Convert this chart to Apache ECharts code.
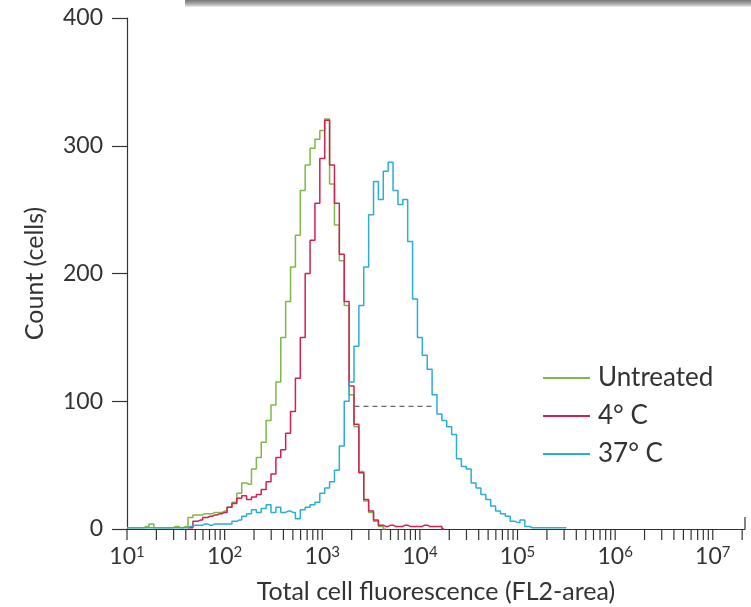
<!DOCTYPE html>
<html>
<head>
<meta charset="utf-8">
<script src="https://cdn.jsdelivr.net/npm/echarts@6/dist/echarts.min.js"></script>
<style>
html,body{margin:0;padding:0;background:#fff;}
#chart{width:751px;height:607px;}
</style>
</head>
<body>
<div id="chart"></div>
<script>
// Histogram channels, in log10 of total cell fluorescence (FL2-area)
const channels = [
  1.00,1.05,1.10,1.15,1.20,1.25,1.30,1.35,1.40,1.45,
  1.50,1.55,1.60,1.65,1.70,1.75,1.80,1.85,1.90,1.95,
  2.00,2.05,2.10,2.15,2.20,2.25,2.30,2.35,2.40,2.45,
  2.50,2.55,2.60,2.65,2.70,2.75,2.80,2.85,2.90,2.95,
  3.00,3.05,3.10,3.15,3.20,3.25,3.30,3.35,3.40,3.45,
  3.50,3.55,3.60,3.65,3.70,3.75,3.80,3.85,3.90,3.95,
  4.00,4.05,4.10,4.15,4.20,4.25,4.30,4.35,4.40,4.45,
  4.50,4.55,4.60,4.65,4.70,4.75,4.80,4.85,4.90,4.95,
  5.00,5.05,5.10,5.15,5.20,5.25,5.30,5.35,5.40,5.45,
  5.50
];
// Counts per channel (null = no trace)
const untreated = [
  1,1,1,1,2,4,1,1,1,1,
  2,1,2,9,11,11,12,12,13,13,
  14,17,21,28,36,35,47,56,68,85,
  97,115,150,178,205,230,265,285,298,305,
  312,321,270,238,210,175,105,80,45,22,
  13,6,2,0
];
const cold4 = [
  null,null,null,null,null,null,null,null,null,null,
  null,null,null,1,6,7,9,10,11,12,
  13,17,20,24,26,23,25,27,31,37,
  43,56,62,75,92,118,150,200,226,255,
  290,320,285,255,215,178,112,82,44,23,
  14,7,3,2,3,2,2,3,2,2,
  2,3,2,2,2,0
];
const warm37 = [
  1,1,1,1,1,1,1,1,1,1,
  1,1,1,2,3,3,4,3,4,4,
  4,4,6,7,10,12,15,13,16,19,
  13,17,13,14,13,8,15,17,19,21,
  28,32,37,46,65,100,115,143,175,205,
  246,272,258,280,287,265,254,258,225,180,
  150,136,125,105,90,85,80,74,55,49,
  47,36,32,27,23,18,14,12,10,6,
  5,7,2,1,1,1,1,1,1,1,
  1
];
// Half-maximum marker of the 37 °C peak: [log10 fluorescence, count]
const halfMax = [[3.33, 96], [4.16, 96]];
const seriesNames = ['Untreated', '4° C', '37° C'];
const yTicks = [0, 100, 200, 300, 400];

const FONT = 'Lato, "Open Sans", sans-serif';
const TXT = '#333333';
const colors = ['#7cba45', '#d2204f', '#2badd6'];

function pairs(arr) {
  const out = [];
  for (let i = 0; i < arr.length; i++) out.push([channels[i], arr[i]]);
  return out;
}

const xMin = 1, xMax = 7.33;
// minor + major tick positions of the log axis (decades 10^1 .. 10^7)
const tickPos = [];
for (let n = 1; n <= 7; n++) {
  for (let k = 1; k <= 9; k++) {
    const v = n + Math.log10(k);
    if (v <= xMax) tickPos.push([v, 0]);
  }
}

const chart = echarts.init(document.getElementById('chart'));
chart.setOption({
  animation: false,
  backgroundColor: '#ffffff',
  graphic: [{
    type: 'rect',
    shape: { x: 185, y: -1, width: 580, height: 8 },
    style: {
      fill: new echarts.graphic.LinearGradient(0, 0, 0, 1, [
        { offset: 0, color: '#6a6a6a' },
        { offset: 0.6, color: '#a8a8a8' },
        { offset: 1, color: '#ececec' }
      ])
    },
    silent: true
  }],
  grid: { left: 127, right: 6, top: 18, bottom: 78, containLabel: false, outerBoundsMode: 'none' },
  legend: {
    orient: 'vertical',
    left: 543,
    top: 365,
    padding: 0,
    icon: 'rect',
    itemWidth: 47,
    itemHeight: 2,
    itemGap: 12,
    data: seriesNames,
    textStyle: { fontFamily: FONT, fontSize: 26, color: TXT, lineHeight: 26, padding: [0, 0, 0, 3] }
  },
  xAxis: {
    type: 'value',
    min: xMin,
    max: xMax,
    interval: 1,
    splitLine: { show: false },
    axisLine: { lineStyle: { color: TXT, width: 1.2 } },
    axisTick: { show: false },
    axisLabel: {
      margin: 16,
      showMaxLabel: false,
      formatter: function (v) {
        if (Math.abs(v - Math.round(v)) > 1e-6) return '';
        return '{b|10}{s|' + Math.round(v) + '}';
      },
      rich: {
        b: { fontFamily: FONT, fontSize: 23, color: TXT, lineHeight: 24 },
        s: { fontFamily: FONT, fontSize: 15, color: TXT, lineHeight: 14, verticalAlign: 'top' }
      }
    },
    name: 'Total cell fluorescence (FL2-area)',
    nameLocation: 'middle',
    nameGap: 50,
    nameTextStyle: { fontFamily: FONT, fontSize: 25, color: TXT }
  },
  yAxis: {
    type: 'value',
    min: 0,
    max: 400,
    interval: 100,
    splitLine: { show: false },
    axisLine: { show: true, lineStyle: { color: TXT, width: 1.2 } },
    axisTick: { show: true, length: 15, lineStyle: { color: TXT, width: 1.2 } },
    axisLabel: {
      margin: 24,
      fontFamily: FONT, fontSize: 23, color: TXT,
      formatter: function (v) { return yTicks.indexOf(v) >= 0 ? String(v) : ''; }
    },
    name: 'Count (cells)',
    nameLocation: 'middle',
    nameRotate: 90,
    nameGap: 80,
    nameTextStyle: { fontFamily: FONT, fontSize: 25, color: TXT }
  },
  series: [
    {
      type: 'custom',
      silent: true,
      clip: false,
      z: 1,
      data: tickPos,
      renderItem: function (params, api) {
        const p = api.coord([api.value(0), 0]);
        return { type: 'line', shape: { x1: p[0], y1: p[1], x2: p[0], y2: p[1] + 11 },
          style: { stroke: TXT, lineWidth: 1.2 } };
      }
    },
    {
      type: 'custom',
      silent: true,
      clip: false,
      z: 1,
      data: [[xMax, 0]],
      renderItem: function (params, api) {
        const p = api.coord([api.value(0), 0]);
        return { type: 'line', shape: { x1: p[0], y1: p[1], x2: p[0], y2: p[1] - 12 },
          style: { stroke: TXT, lineWidth: 1.2 } };
      }
    },
    {
      type: 'line',
      silent: true,
      data: halfMax,
      showSymbol: false,
      lineStyle: { color: '#666666', width: 1.2, type: [5, 4] },
      z: 2
    },
    {
      name: seriesNames[0], type: 'line', step: 'middle', showSymbol: false,
      data: pairs(untreated), color: colors[0], lineStyle: { width: 1.5 }, z: 3
    },
    {
      name: seriesNames[1], type: 'line', step: 'middle', showSymbol: false,
      data: pairs(cold4), color: colors[1], lineStyle: { width: 1.5 }, z: 4
    },
    {
      name: seriesNames[2], type: 'line', step: 'middle', showSymbol: false,
      data: pairs(warm37), color: colors[2], lineStyle: { width: 1.5 }, z: 5
    }
  ]
});
</script>
</body>
</html>
